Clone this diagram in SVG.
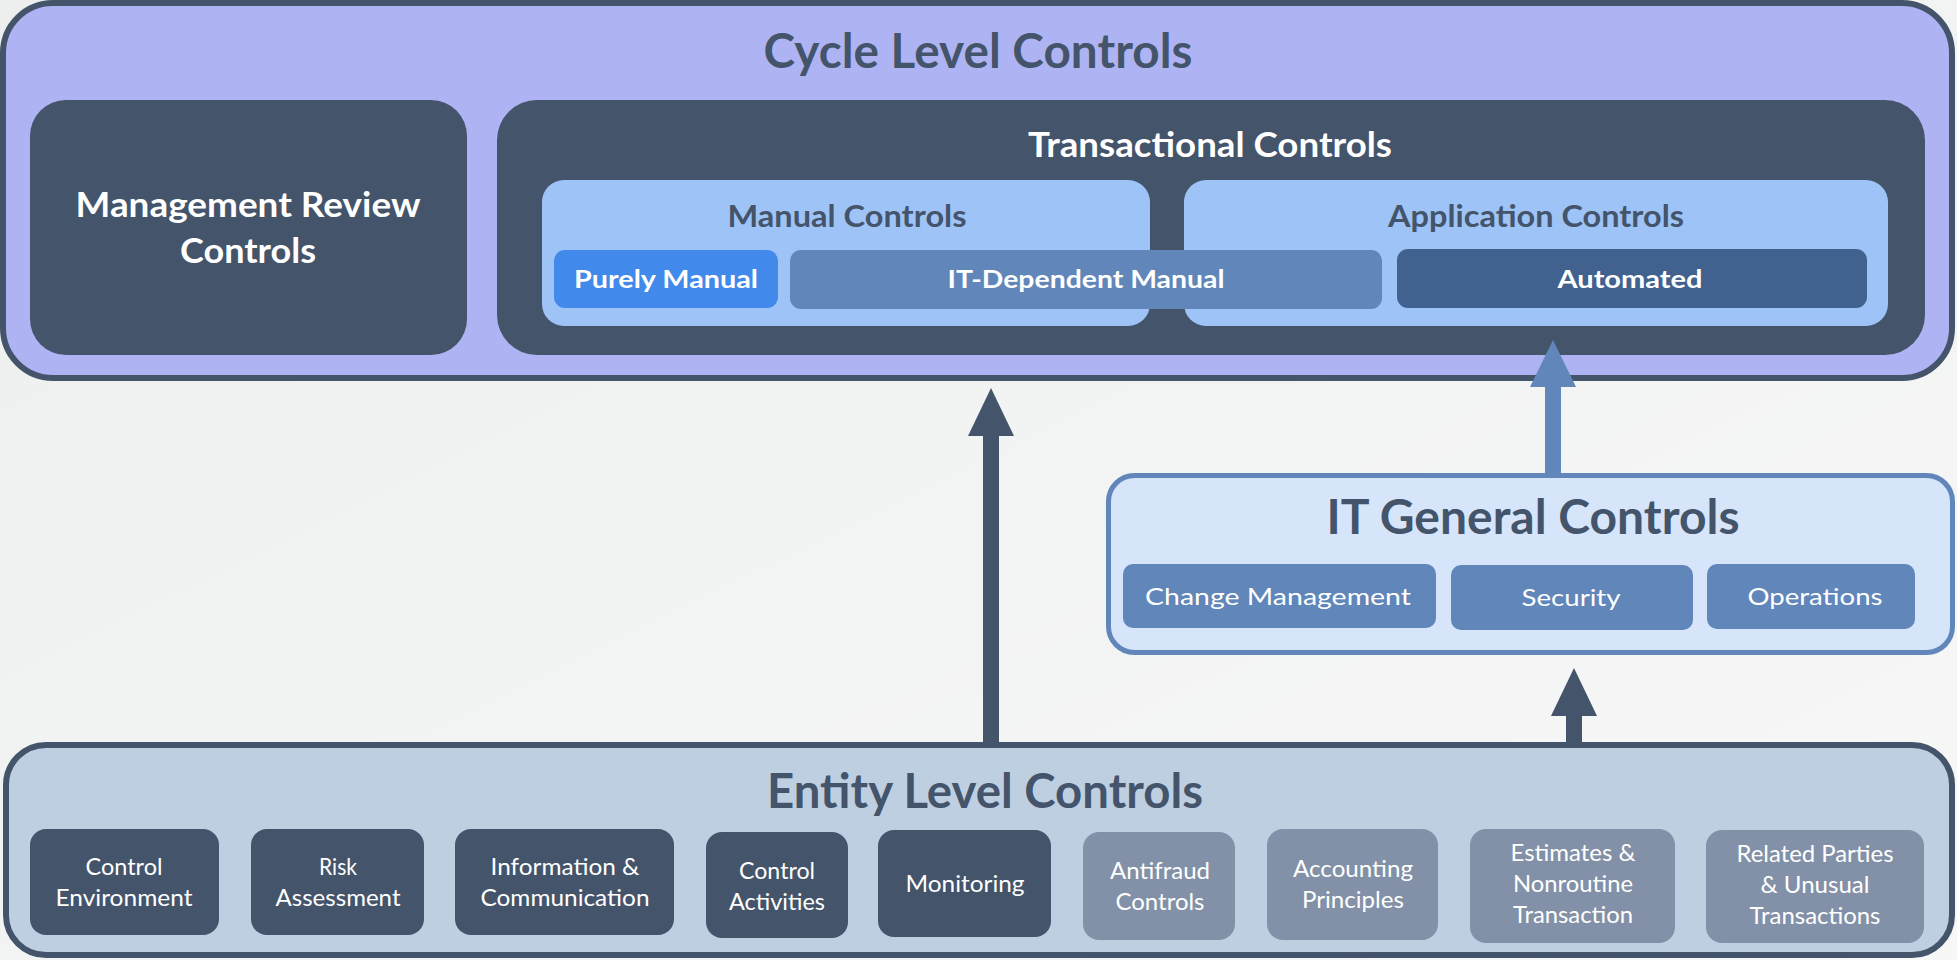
<svg xmlns="http://www.w3.org/2000/svg" width="1957" height="960" viewBox="0 0 1957 960">
  <defs>
    <linearGradient id="bg" x1="0" y1="0" x2="1" y2="1">
      <stop offset="0" stop-color="#EDEFEF"/>
      <stop offset="1" stop-color="#F7F7F7"/>
    </linearGradient>
    <marker id="headDark" markerUnits="userSpaceOnUse" markerWidth="48" markerHeight="46" refX="0" refY="23" orient="auto" overflow="visible">
      <path d="M0,0 L48,23 L0,46 Z" fill="#44546A"/>
    </marker>
    <marker id="headBlue" markerUnits="userSpaceOnUse" markerWidth="47" markerHeight="46" refX="0" refY="23" orient="auto" overflow="visible">
      <path d="M0,0 L47,23 L0,46 Z" fill="#6186B9"/>
    </marker>
  </defs>
  <style>
    text { font-family: "Lato", "Open Sans", "Liberation Sans", sans-serif; text-anchor: middle; }
    .title { font-weight: 700; fill: #44546A; font-size: 47px; }
    .white-b { font-weight: 700; fill: #FFFFFF; }
    .slate-b { font-weight: 700; fill: #44546A; }
    .white-r { font-weight: 400; fill: #FFFFFF; }
    .dark { fill: #44546A; }
    .grey { fill: #8291A7; }
    .steel { fill: #6186B9; }
    .pane { fill: #9EC3F6; }
    .conn-dark { stroke: #44546A; stroke-width: 16; fill: none; }
    .conn-blue { stroke: #6186B9; stroke-width: 16; fill: none; }
  </style>

  <rect x="0" y="0" width="1957" height="960" fill="url(#bg)"/>

  <!-- Cycle level controls -->
  <g id="cycle-level">
    <rect x="3" y="3" width="1949" height="375" rx="50" fill="#AEB4F3" stroke="#44546A" stroke-width="6"/>
    <text class="title" x="978" y="68" font-size="46" textLength="429" lengthAdjust="spacingAndGlyphs">Cycle Level Controls</text>
  </g>

  <g id="management-review">
    <rect class="dark" x="30" y="100" width="437" height="255" rx="36"/>
    <text class="white-b" x="248" y="217" font-size="34" textLength="345" lengthAdjust="spacingAndGlyphs">Management Review</text>
    <text class="white-b" x="248" y="263" font-size="34" textLength="136" lengthAdjust="spacingAndGlyphs">Controls</text>
  </g>

  <g id="transactional">
    <rect class="dark" x="497" y="100" width="1428" height="255" rx="40"/>
    <text class="white-b" x="1210" y="157" font-size="34" textLength="364" lengthAdjust="spacingAndGlyphs">Transactional Controls</text>
  </g>

  <g id="manual-controls">
    <rect class="pane" x="542" y="180" width="608" height="146" rx="22"/>
    <text class="slate-b" x="847" y="227" font-size="30" textLength="239" lengthAdjust="spacingAndGlyphs">Manual Controls</text>
  </g>

  <g id="application-controls">
    <rect class="pane" x="1184" y="180" width="704" height="146" rx="22"/>
    <text class="slate-b" x="1536" y="227" font-size="30" textLength="296" lengthAdjust="spacingAndGlyphs">Application Controls</text>
  </g>

  <g id="purely-manual">
    <rect x="554" y="250" width="224" height="58" rx="11" fill="#4189EA"/>
    <text class="white-b" x="666" y="288" font-size="25" textLength="184" lengthAdjust="spacingAndGlyphs">Purely Manual</text>
  </g>

  <g id="it-dependent-manual">
    <rect class="steel" x="790" y="250" width="592" height="59" rx="11"/>
    <text class="white-b" x="1086" y="288" font-size="25" textLength="277" lengthAdjust="spacingAndGlyphs">IT-Dependent Manual</text>
  </g>

  <g id="automated">
    <rect x="1397" y="249" width="470" height="59" rx="11" fill="#41618F"/>
    <text class="white-b" x="1630" y="288" font-size="25" textLength="145" lengthAdjust="spacingAndGlyphs">Automated</text>
  </g>

  <!-- IT general controls -->
  <g id="it-general">
    <rect x="1108.5" y="475.5" width="844" height="177" rx="26" fill="#D6E5FA" stroke="#6186B9" stroke-width="5"/>
    <text class="title" x="1533" y="534" textLength="413" lengthAdjust="spacingAndGlyphs">IT General Controls</text>
  </g>

  <g id="change-management">
    <rect class="steel" x="1123" y="564" width="313" height="64" rx="10"/>
    <text class="white-r" x="1278" y="605" font-size="24" textLength="266" lengthAdjust="spacingAndGlyphs">Change Management</text>
  </g>

  <g id="security">
    <rect class="steel" x="1451" y="565" width="242" height="65" rx="10"/>
    <text class="white-r" x="1571" y="606" font-size="24" textLength="99" lengthAdjust="spacingAndGlyphs">Security</text>
  </g>

  <g id="operations">
    <rect class="steel" x="1707" y="564" width="208" height="65" rx="10"/>
    <text class="white-r" x="1815" y="605" font-size="24" textLength="135" lengthAdjust="spacingAndGlyphs">Operations</text>
  </g>

  <!-- Entity level controls -->
  <g id="entity-level">
    <rect x="6" y="745" width="1946" height="210" rx="40" fill="#BFCFE2" stroke="#44546A" stroke-width="6"/>
    <text class="title" x="985" y="808" textLength="436" lengthAdjust="spacingAndGlyphs">Entity Level Controls</text>
  </g>

  <g id="control-environment">
    <rect class="dark" x="30" y="829" width="189" height="106" rx="16"/>
    <text class="white-r" x="124" y="875" font-size="23" textLength="77" lengthAdjust="spacingAndGlyphs">Control</text>
    <text class="white-r" x="124" y="906" font-size="23" textLength="137" lengthAdjust="spacingAndGlyphs">Environment</text>
  </g>

  <g id="risk-assessment">
    <rect class="dark" x="251" y="829" width="173" height="106" rx="16"/>
    <text class="white-r" x="338" y="875" font-size="23" textLength="38" lengthAdjust="spacingAndGlyphs">Risk</text>
    <text class="white-r" x="338" y="906" font-size="23" textLength="125" lengthAdjust="spacingAndGlyphs">Assessment</text>
  </g>

  <g id="information-communication">
    <rect class="dark" x="455" y="829" width="219" height="106" rx="16"/>
    <text class="white-r" x="565" y="875" font-size="23" textLength="149" lengthAdjust="spacingAndGlyphs">Information &amp;</text>
    <text class="white-r" x="565" y="906" font-size="23" textLength="169" lengthAdjust="spacingAndGlyphs">Communication</text>
  </g>

  <g id="control-activities">
    <rect class="dark" x="706" y="832" width="142" height="106" rx="16"/>
    <text class="white-r" x="777" y="879" font-size="23" textLength="76" lengthAdjust="spacingAndGlyphs">Control</text>
    <text class="white-r" x="777" y="910" font-size="23" textLength="96" lengthAdjust="spacingAndGlyphs">Activities</text>
  </g>

  <g id="monitoring">
    <rect class="dark" x="878" y="830" width="173" height="107" rx="16"/>
    <text class="white-r" x="965" y="892" font-size="23" textLength="119" lengthAdjust="spacingAndGlyphs">Monitoring</text>
  </g>

  <g id="antifraud-controls">
    <rect class="grey" x="1083" y="832" width="152" height="108" rx="16"/>
    <text class="white-r" x="1160" y="879" font-size="23" textLength="100" lengthAdjust="spacingAndGlyphs">Antifraud</text>
    <text class="white-r" x="1160" y="910" font-size="23" textLength="89" lengthAdjust="spacingAndGlyphs">Controls</text>
  </g>

  <g id="accounting-principles">
    <rect class="grey" x="1267" y="829" width="171" height="111" rx="16"/>
    <text class="white-r" x="1353" y="877" font-size="23" textLength="120" lengthAdjust="spacingAndGlyphs">Accounting</text>
    <text class="white-r" x="1353" y="908" font-size="23" textLength="102" lengthAdjust="spacingAndGlyphs">Principles</text>
  </g>

  <g id="estimates-nonroutine">
    <rect class="grey" x="1470" y="829" width="205" height="114" rx="16"/>
    <text class="white-r" x="1573" y="861" font-size="23" textLength="125" lengthAdjust="spacingAndGlyphs">Estimates &amp;</text>
    <text class="white-r" x="1573" y="892" font-size="23" textLength="120" lengthAdjust="spacingAndGlyphs">Nonroutine</text>
    <text class="white-r" x="1573" y="923" font-size="23" textLength="120" lengthAdjust="spacingAndGlyphs">Transaction</text>
  </g>

  <g id="related-parties">
    <rect class="grey" x="1706" y="830" width="218" height="113" rx="16"/>
    <text class="white-r" x="1815" y="862" font-size="23" textLength="157" lengthAdjust="spacingAndGlyphs">Related Parties</text>
    <text class="white-r" x="1815" y="893" font-size="23" textLength="109" lengthAdjust="spacingAndGlyphs">&amp; Unusual</text>
    <text class="white-r" x="1815" y="924" font-size="23" textLength="131" lengthAdjust="spacingAndGlyphs">Transactions</text>
  </g>

  <!-- Connectors -->
  <g id="connectors">
    <line class="conn-dark" x1="991" y1="745" x2="991" y2="436" marker-end="url(#headDark)"/>
    <line class="conn-blue" x1="1553" y1="473" x2="1553" y2="387" marker-end="url(#headBlue)"/>
    <line class="conn-dark" x1="1574" y1="745" x2="1574" y2="716" marker-end="url(#headDark)"/>
  </g>
</svg>
